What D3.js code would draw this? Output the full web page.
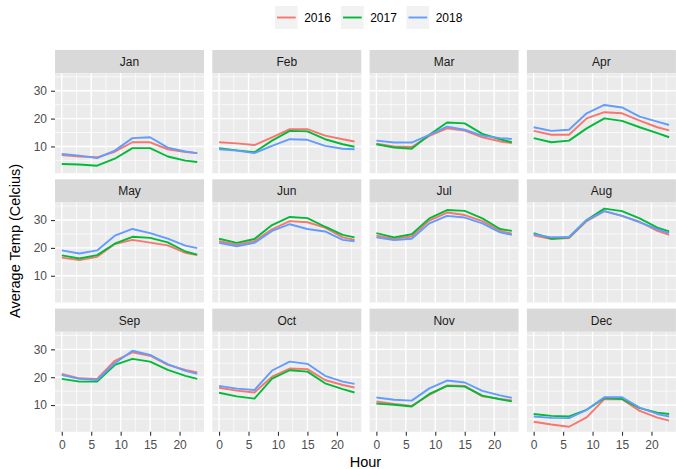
<!DOCTYPE html>
<html>
<head>
<meta charset="utf-8">
<script src="https://cdn.jsdelivr.net/npm/d3@7"></script>
<style>
  html, body { margin: 0; padding: 0; background: #fff; }
  svg { display: block; font-family: "Liberation Sans", Arial, sans-serif; }
</style>
</head>
<body>
<svg id="chart" width="676" height="469"></svg>
<script>
// Average hourly temperature by month, one line per year
const months = ["Jan","Feb","Mar","Apr","May","Jun","Jul","Aug","Sep","Oct","Nov","Dec"];
const hours = [0, 3, 6, 9, 12, 15, 18, 21, 23];
const years = ["2016", "2017", "2018"];
const yearColors = ["#F8766D", "#00BA38", "#619CFF"];
const xTicks = [0, 5, 10, 15, 20];
const yTicks = [10, 20, 30];

const temp2016 = [
  [6.9, 6.4, 6.1, 8.1, 11.5, 11.5, 9.0, 8.0, 7.6],
  [11.5, 11.1, 10.5, 13.3, 16.2, 16.2, 13.9, 12.6, 11.8],
  [11.0, 10.0, 9.8, 13.8, 16.5, 15.7, 13.3, 11.8, 11.2],
  [15.6, 14.2, 14.2, 20.1, 22.3, 21.9, 19.3, 16.9, 15.8],
  [16.5, 15.6, 16.8, 21.4, 22.9, 21.9, 20.9, 18.2, 17.4],
  [22.4, 21.2, 22.4, 26.7, 29.6, 29.2, 27.3, 23.8, 22.9],
  [24.4, 23.3, 24.1, 29.8, 32.7, 31.8, 29.6, 26.1, 25.1],
  [24.5, 23.2, 23.5, 29.6, 33.2, 31.5, 29.4, 26.1, 24.7],
  [21.2, 19.6, 19.4, 25.9, 28.9, 27.7, 24.4, 22.6, 21.7],
  [16.2, 15.2, 14.5, 20.2, 23.1, 22.9, 19.0, 17.2, 16.3],
  [11.3, 10.4, 9.7, 13.6, 17.0, 16.9, 13.1, 12.2, 11.7],
  [4.0, 3.0, 2.2, 5.6, 12.1, 12.1, 7.9, 5.5, 4.4]
];
const temp2017 = [
  [3.7, 3.5, 3.1, 5.6, 9.4, 9.4, 6.4, 4.9, 4.4],
  [9.4, 8.6, 7.9, 12.1, 15.6, 15.4, 12.6, 10.8, 9.9],
  [10.8, 9.6, 9.2, 14.2, 18.6, 18.3, 14.5, 12.6, 11.5],
  [13.0, 11.5, 12.1, 16.5, 20.1, 19.2, 16.9, 14.8, 13.3],
  [17.3, 16.2, 17.4, 21.5, 24.0, 23.6, 22.0, 18.7, 17.6],
  [23.3, 21.8, 23.2, 28.2, 31.1, 30.7, 27.6, 24.7, 23.8],
  [25.3, 23.8, 24.9, 30.6, 33.6, 33.3, 30.6, 26.8, 26.1],
  [25.3, 23.3, 23.8, 30.0, 34.1, 33.2, 30.6, 27.3, 25.9],
  [19.4, 18.4, 18.4, 24.4, 26.6, 25.6, 22.6, 20.5, 19.4],
  [14.4, 13.1, 12.3, 19.5, 22.5, 22.0, 17.8, 15.7, 14.5],
  [10.5, 10.1, 9.5, 14.0, 16.9, 16.6, 13.4, 12.1, 11.3],
  [6.8, 6.1, 5.9, 8.3, 12.5, 12.2, 8.9, 7.3, 6.8]
];
const temp2018 = [
  [7.3, 6.7, 5.8, 8.5, 13.0, 13.3, 9.6, 8.2, 7.6],
  [9.0, 8.5, 7.6, 10.2, 12.6, 12.4, 10.2, 9.2, 9.0],
  [12.1, 11.4, 11.4, 14.2, 17.1, 16.0, 13.9, 13.0, 12.7],
  [16.9, 15.6, 16.0, 21.9, 24.9, 24.0, 20.7, 18.9, 17.7],
  [19.1, 18.0, 19.1, 24.4, 26.8, 25.3, 23.3, 20.8, 19.9],
  [21.8, 20.6, 21.8, 26.1, 28.5, 26.8, 25.9, 22.9, 22.4],
  [23.8, 22.8, 23.3, 28.8, 31.5, 30.9, 28.8, 25.6, 24.7],
  [24.9, 23.8, 23.9, 30.0, 33.2, 31.5, 29.2, 26.7, 25.3],
  [20.8, 19.4, 19.0, 25.0, 29.5, 28.0, 24.7, 22.3, 21.2],
  [16.9, 15.9, 15.4, 22.4, 25.6, 24.8, 20.5, 18.4, 17.6],
  [12.7, 11.9, 11.6, 16.0, 18.8, 18.1, 15.1, 13.5, 12.6],
  [5.9, 5.4, 5.3, 8.3, 12.8, 12.8, 9.1, 6.8, 5.9]
];
const seriesByYear = [temp2016, temp2017, temp2018];

// facet layout
const nCols = 4;
const panelLeft0 = 55, colPitch = 157.3, panelW = 149;
const stripTop0 = 50, rowPitch = 129.3, stripH = 23.2, panelH = 100;
const xDomain = [-1.15, 24.15];
const yDomain = [0.4, 36.3];

const svg = d3.select("#chart");
svg.append("rect").attr("width", 676).attr("height", 469).attr("fill", "#fff");

const lineWidth = 1.9;

months.forEach((m, i) => {
  const col = i % nCols, row = Math.floor(i / nCols);
  const left = panelLeft0 + col * colPitch;
  const stripTop = stripTop0 + row * rowPitch;
  const top = stripTop + stripH;

  const x = d3.scaleLinear().domain(xDomain).range([left, left + panelW]);
  const y = d3.scaleLinear().domain(yDomain).range([top + panelH, top]);

  const g = svg.append("g");

  // strip
  g.append("rect").attr("x", left).attr("y", stripTop)
    .attr("width", panelW).attr("height", stripH).attr("fill", "#D9D9D9");
  g.append("text").attr("x", left + panelW / 2).attr("y", stripTop + stripH / 2)
    .attr("dy", "0.36em").attr("text-anchor", "middle")
    .attr("font-size", 12).attr("fill", "#1A1A1A").text(m);

  // panel background
  g.append("rect").attr("x", left).attr("y", top)
    .attr("width", panelW).attr("height", panelH).attr("fill", "#EBEBEB");

  // grid lines
  const xMinor = [2.5, 7.5, 12.5, 17.5, 22.5];
  const yMinor = [5, 15, 25, 35];
  g.selectAll(null).data(xMinor).join("line")
    .attr("x1", d => x(d)).attr("x2", d => x(d))
    .attr("y1", top).attr("y2", top + panelH)
    .attr("stroke", "#fff").attr("stroke-width", 0.7);
  g.selectAll(null).data(yMinor).join("line")
    .attr("y1", d => y(d)).attr("y2", d => y(d))
    .attr("x1", left).attr("x2", left + panelW)
    .attr("stroke", "#fff").attr("stroke-width", 0.7);
  g.selectAll(null).data(xTicks).join("line")
    .attr("x1", d => x(d)).attr("x2", d => x(d))
    .attr("y1", top).attr("y2", top + panelH)
    .attr("stroke", "#fff").attr("stroke-width", 1.4);
  g.selectAll(null).data(yTicks).join("line")
    .attr("y1", d => y(d)).attr("y2", d => y(d))
    .attr("x1", left).attr("x2", left + panelW)
    .attr("stroke", "#fff").attr("stroke-width", 1.4);

  // one line per year
  const line = d3.line().x((d, k) => x(hours[k])).y(d => y(d));
  seriesByYear.forEach((s, yi) => {
    g.append("path").datum(s[i]).attr("d", line)
      .attr("fill", "none").attr("stroke", yearColors[yi])
      .attr("stroke-width", lineWidth).attr("stroke-linejoin", "round");
  });

  // axes: left column gets y axis, bottom row gets x axis
  if (col === 0) {
    const ax = g.append("g").attr("transform", `translate(${left},0)`)
      .call(d3.axisLeft(y).tickValues(yTicks).tickSize(4).tickPadding(4));
    ax.select(".domain").remove();
    ax.selectAll(".tick line").attr("stroke", "#333333").attr("stroke-width", 1.1);
    ax.selectAll(".tick text").attr("fill", "#4D4D4D").attr("font-size", 12)
      .attr("font-family", "Liberation Sans, Arial, sans-serif");
  }
  if (row === 2) {
    const ax = g.append("g").attr("transform", `translate(0,${top + panelH})`)
      .call(d3.axisBottom(x).tickValues(xTicks).tickSize(4).tickPadding(5));
    ax.select(".domain").remove();
    ax.selectAll(".tick line").attr("stroke", "#333333").attr("stroke-width", 1.1);
    ax.selectAll(".tick text").attr("fill", "#4D4D4D").attr("font-size", 12)
      .attr("font-family", "Liberation Sans, Arial, sans-serif");
  }
});

// axis titles
const panelsRight = panelLeft0 + (nCols - 1) * colPitch + panelW;
svg.append("text").attr("x", (panelLeft0 + panelsRight) / 2).attr("y", 466.5)
  .attr("text-anchor", "middle").attr("font-size", 14.5).attr("fill", "#000")
  .text("Hour");
const gridTop = stripTop0, gridBottom = stripTop0 + 2 * rowPitch + stripH + panelH;
svg.append("text")
  .attr("transform", `translate(19.5,${(gridTop + gridBottom) / 2}) rotate(-90)`)
  .attr("text-anchor", "middle").attr("font-size", 14.5).attr("fill", "#000")
  .text("Average Temp (Celcius)");

// legend
const legendKeyX = [275, 341, 406.5];
const keyW = 22.7, keyH = 23, keyTop = 6;
const legend = svg.append("g");
years.forEach((yr, k) => {
  const kx = legendKeyX[k];
  legend.append("rect").attr("x", kx).attr("y", keyTop)
    .attr("width", keyW).attr("height", keyH).attr("fill", "#F2F2F2");
  legend.append("line").attr("x1", kx + 2).attr("x2", kx + keyW - 2)
    .attr("y1", keyTop + keyH / 2).attr("y2", keyTop + keyH / 2)
    .attr("stroke", yearColors[k]).attr("stroke-width", lineWidth);
  legend.append("text").attr("x", kx + keyW + 6.5).attr("y", keyTop + keyH / 2)
    .attr("dy", "0.36em").attr("font-size", 12).attr("fill", "#000").text(yr);
});
</script>
</body>
</html>
